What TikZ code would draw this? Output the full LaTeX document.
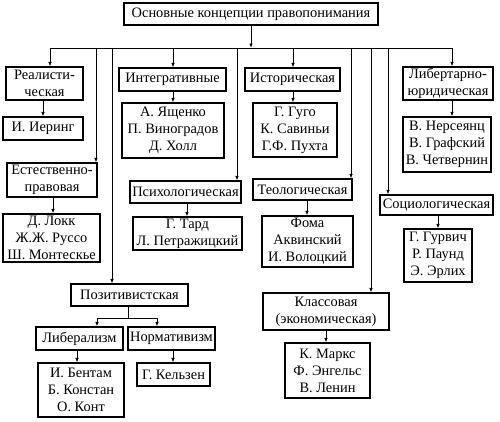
\documentclass[tikz,border=0pt]{standalone}
\usepackage{fontspec}
\setmainfont{Liberation Serif}
\usetikzlibrary{arrows.meta}
\begin{document}
\begin{tikzpicture}[x=1pt,y=-1pt,
  box/.style={draw=black,line width=1.1pt,rectangle,inner sep=0pt,align=center,
    font=\fontsize{14.4}{17}\selectfont},
  conn/.style={line width=0.9pt,draw=black},
  arr/.style={conn,-{Latex[length=4.5pt,width=3.5pt]}}]
\useasboundingbox (0,0) rectangle (500,421);
\node[box,minimum width=254pt,minimum height=22pt] (top) at (251,14) {Основные концепции правопонимания};
\node[box,minimum width=77pt,minimum height=33pt] (real) at (44.5,83.5) {Реалисти-\\ческая};
\node[box,minimum width=80pt,minimum height=23pt] (ier) at (43,128.5) {И. Иеринг};
\node[box,minimum width=90pt,minimum height=34pt] (est) at (52,180) {Естественно-\\правовая};
\node[box,minimum width=97pt,minimum height=48pt] (lokk) at (51.5,238) {Д. Локк\\Ж.Ж. Руссо\\Ш. Монтескье};
\node[box,minimum width=107pt,minimum height=23pt] (integ) at (172.5,79.5) {Интегративные};
\node[box,minimum width=102pt,minimum height=55pt] (yash) at (173,130.5) {А. Ященко\\П. Виноградов\\Д. Холл};
\node[box,minimum width=111pt,minimum height=22pt] (psych) at (185.5,192) {Психологическая};
\node[box,minimum width=109pt,minimum height=33pt] (tard) at (187.5,233.5) {Г. Тард\\Л. Петражицкий};
\node[box,minimum width=95pt,minimum height=23pt] (hist) at (292.5,79.5) {Историческая};
\node[box,minimum width=84pt,minimum height=54pt] (gugo) at (295,130) {Г. Гуго\\К. Савиньи\\Г.Ф. Пухта};
\node[box,minimum width=99pt,minimum height=21pt] (teol) at (302.5,189.5) {Теологическая};
\node[box,minimum width=91pt,minimum height=51pt] (foma) at (307.5,241.5) {Фома\\Аквинский\\И. Волоцкий};
\node[box,minimum width=90pt,minimum height=33pt] (lib) at (448,83.5) {Либертарно-\\юридическая};
\node[box,minimum width=88pt,minimum height=55pt] (ners) at (447,144.5) {В. Нерсеянц\\В. Графский\\В. Четвернин};
\node[box,minimum width=113pt,minimum height=20pt] (soc) at (436.5,205) {Социологическая};
\node[box,minimum width=68pt,minimum height=53pt] (gurv) at (438,255.5) {Г. Гурвич\\Р. Паунд\\Э. Эрлих};
\node[box,minimum width=117pt,minimum height=22pt] (pos) at (129.5,295) {Позитивистская};
\node[box,minimum width=87pt,minimum height=23pt] (liber) at (79.5,338.5) {Либерализм};
\node[box,minimum width=87pt,minimum height=23pt] (norm) at (171.5,338.5) {Нормативизм};
\node[box,minimum width=86pt,minimum height=54pt] (bent) at (81,390) {И. Бентам\\Б. Констан\\О. Конт};
\node[box,minimum width=73pt,minimum height=23pt] (kels) at (173.5,374.5) {Г. Кельзен};
\node[box,minimum width=126pt,minimum height=37pt] (klass) at (326,311.5) {Классовая\\(экономическая)};
\node[box,minimum width=85pt,minimum height=55pt] (marks) at (327.5,370.5) {К. Маркс\\Ф. Энгельс\\В. Ленин};
% bus
\coordinate (bL) at (50,48);
\coordinate (bR) at (452,48);
\coordinate (bTop) at (251,48);
\coordinate (b96) at (96,48);
\coordinate (b112) at (112,48);
\coordinate (b173) at (173,48);
\coordinate (b237) at (237,48);
\coordinate (b293) at (293,48);
\coordinate (b351) at (351,48);
\coordinate (b371) at (371,48);
\coordinate (b388) at (388,48);
\draw[arr] (top) -- (bTop);
\draw[conn] (bL) -- (bR);
\draw[arr] (bL) -- (bL |- real.north);
\draw[arr] (b96) -- (b96 |- est.north);
\draw[arr] (b112) -- (b112 |- pos.north);
\draw[arr] (b173) -- (b173 |- integ.north);
\draw[arr] (b237) -- (b237 |- psych.north);
\draw[arr] (b293) -- (b293 |- hist.north);
\draw[arr] (b351) -- (b351 |- teol.north);
\draw[arr] (b371) -- (b371 |- klass.north);
\draw[arr] (b388) -- (b388 |- soc.north);
\draw[arr] (bR) -- (bR |- lib.north);
% children
\draw[arr] (real.south -| ier.north) -- (ier.north);
\draw[arr] (53,0 |- est.south) coordinate (e1) -- (e1 |- lokk.north);
\draw[arr] (integ.south -| yash.north) -- (yash.north);
\draw[arr] (187,0 |- psych.south) coordinate (p1) -- (p1 |- tard.north);
\draw[arr] (hist.south -| 293,0) coordinate (h1) -- (h1 |- gugo.north);
\draw[arr] (307,0 |- teol.south) coordinate (t1) -- (t1 |- foma.north);
\draw[arr] (lib.south -| 452,0) coordinate (l1) -- (l1 |- ners.north);
\draw[arr] (438,0 |- soc.south) coordinate (s1) -- (s1 |- gurv.north);
\draw[arr] (326,0 |- klass.south) coordinate (k1) -- (k1 |- marks.north);
\coordinate (pj) at (128,318);
\coordinate (pjl) at (97,318);
\coordinate (pjr) at (157,318);
\draw[conn] (pos.south -| pj) -- (pj);
\draw[conn] (pjl) -- (pjr);
\draw[arr] (pjl) -- (pjl |- liber.north);
\draw[arr] (pjr) -- (pjr |- norm.north);
\draw[arr] (77,0 |- liber.south) coordinate (lb1) -- (lb1 |- bent.north);
\draw[arr] (173,0 |- norm.south) coordinate (n1) -- (n1 |- kels.north);
\end{tikzpicture}
\end{document}
